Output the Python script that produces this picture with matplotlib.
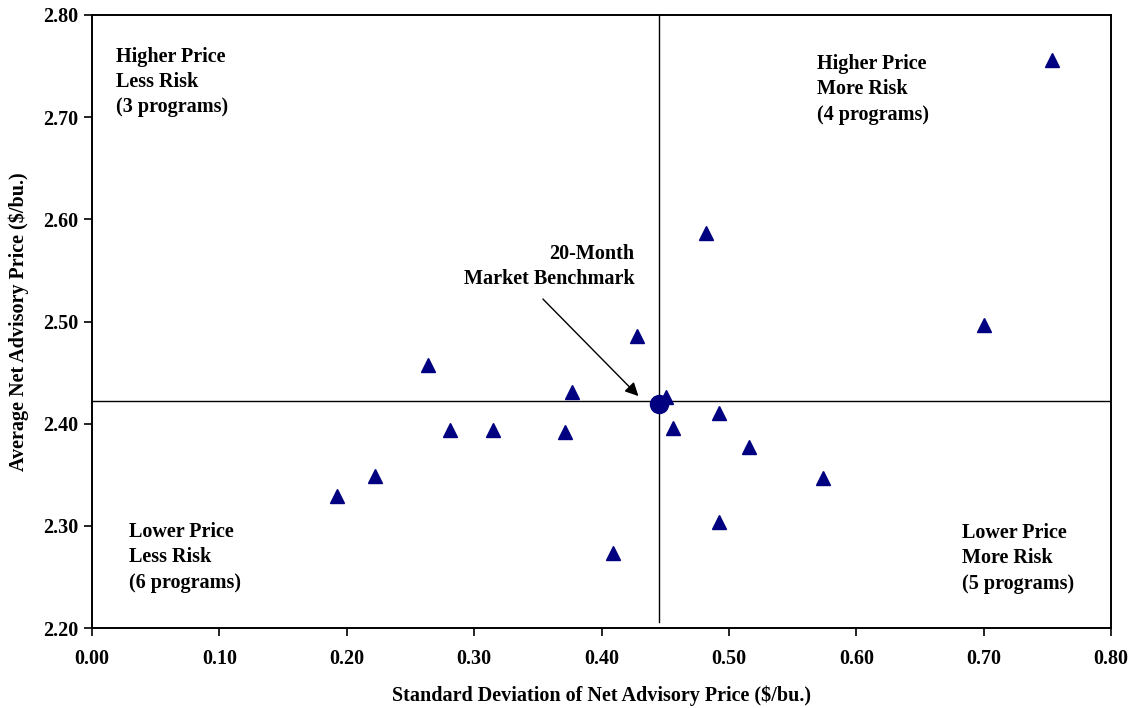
import matplotlib
matplotlib.use("Agg")
import matplotlib.pyplot as plt

# Data
std_dev = [0.192, 0.222, 0.264, 0.281, 0.315, 0.371, 0.377, 0.409, 0.428,
           0.451, 0.456, 0.482, 0.492, 0.492, 0.516, 0.574, 0.700, 0.754]
avg_price = [2.329, 2.349, 2.457, 2.394, 2.394, 2.392, 2.431, 2.273, 2.486,
             2.426, 2.396, 2.587, 2.410, 2.304, 2.377, 2.347, 2.497, 2.756]
bench_x = 0.445
bench_y = 2.419
line_x = 0.445
line_y = 2.422

x_ticks = [0.00, 0.10, 0.20, 0.30, 0.40, 0.50, 0.60, 0.70, 0.80]
y_ticks = [2.20, 2.30, 2.40, 2.50, 2.60, 2.70, 2.80]

plt.rcParams['font.family'] = ['Liberation Serif', 'DejaVu Serif']
plt.rcParams['font.weight'] = 'bold'

fig = plt.figure(figsize=(11.36, 7.08), dpi=100)
ax = fig.add_axes([92/1136, 1 - 628/708, (1111-92)/1136, (628-15)/708])

ax.set_xlim(0, 0.80)
ax.set_ylim(2.20, 2.80)

ax.axvline(line_x, ymin=(2.206-2.20)/0.6, ymax=1, color='black', lw=1.0, zorder=1)
ax.axhline(line_y, xmin=0, xmax=0.998, color='black', lw=1.0, zorder=1)

ax.plot(std_dev, avg_price, linestyle='none', marker='^', markersize=10,
        color='#000080', zorder=3)
ax.plot([bench_x], [bench_y], linestyle='none', marker='o', markersize=13,
        color='#000080', zorder=4)

ax.set_xticks(x_ticks)
ax.set_xticklabels([f"{v:.2f}" for v in x_ticks])
ax.set_yticks(y_ticks)
ax.set_yticklabels([f"{v:.2f}" for v in y_ticks])
ax.tick_params(axis='both', direction='out', length=6, width=1.2,
               labelsize=14.5, color='black')
ax.tick_params(axis='x', pad=9)
ax.tick_params(axis='y', pad=4)
for lbl in ax.get_xticklabels() + ax.get_yticklabels():
    lbl.set_fontweight('bold')
for s in ax.spines.values():
    s.set_linewidth(1.4)

ax.set_xlabel("Standard Deviation of Net Advisory Price ($/bu.)",
              fontsize=14.5, fontweight='bold', labelpad=12)
ax.set_ylabel("Average Net Advisory Price ($/bu.)",
              fontsize=14.5, fontweight='bold', labelpad=10)

tkw = dict(fontsize=14.5, fontweight='bold', va='top', ha='left',
           linespacing=1.36)
ax.text(0.019, 2.769, "Higher Price\nLess Risk\n(3 programs)", **tkw)
ax.text(0.569, 2.762, "Higher Price\nMore Risk\n(4 programs)", **tkw)
ax.text(0.029, 2.304, "Lower Price\nLess Risk\n(6 programs)", **tkw)
ax.text(0.683, 2.303, "Lower Price\nMore Risk\n(5 programs)", **tkw)
ax.text(0.426, 2.576, "20-Month\nMarket Benchmark", fontsize=14.5,
        fontweight='bold', va='top', ha='right', linespacing=1.36,
        multialignment='right')

ax.annotate("", xy=(0.429, 2.427), xytext=(0.354, 2.522),
            arrowprops=dict(arrowstyle='-|>', color='black', lw=1.0,
                            mutation_scale=20, shrinkA=0, shrinkB=0))

fig.savefig("out.png", dpi=100)
